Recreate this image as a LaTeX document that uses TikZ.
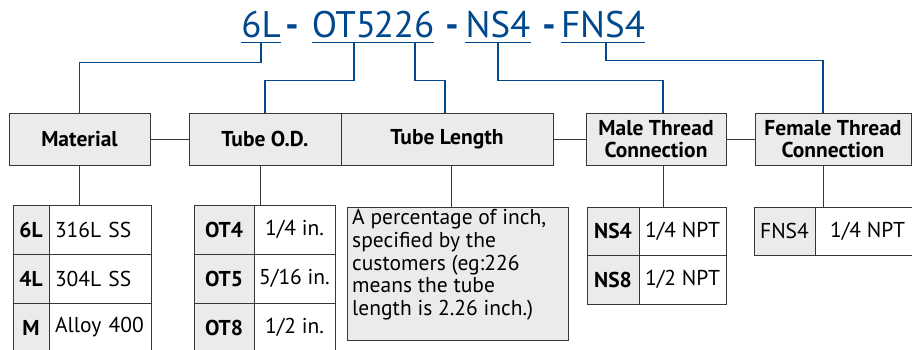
\documentclass[tikz,border=0pt]{standalone}
\usepackage{fontspec}
\setmainfont{PT Sans}
\usetikzlibrary{positioning}
\definecolor{codeblue}{RGB}{0,72,140}
\definecolor{cellgray}{RGB}{235,235,235}
\definecolor{rulegray}{RGB}{55,55,55}
\begin{document}
\begin{tikzpicture}[x=1pt,y=-1pt,
        part/.style={text=codeblue,font=\fontsize{37}{37}\selectfont,inner sep=0pt,anchor=base},
        head/.style={draw=rulegray,fill=cellgray,line width=0.9pt,font=\fontsize{21.5}{22}\selectfont\bfseries,align=center,minimum height=52pt,inner sep=0pt,outer sep=0pt},
        key/.style={draw=rulegray,fill=cellgray,line width=0.9pt,font=\fontsize{21.5}{22}\selectfont\bfseries,minimum height=49pt,inner sep=0pt,outer sep=0pt},
        val/.style={key,fill=white,font=\fontsize{21.5}{22}\selectfont},
        matval/.style={val,minimum width=102pt,text width=90pt,align=left},
        link/.style={draw=codeblue,line width=1.4pt},
        tie/.style={draw=rulegray,line width=0.9pt}]
        \clip (0,0) rectangle (912,349);
        \node[part] (c6L) at (261,37) {6L};
        \node[part] (d1) at (292,37) {\bfseries -};
        \node[part] (cOT) at (344,37) {OT5};
        \node[part] (c226) at (404,37) {226};
        \node[part] (d2) at (452,37) {\bfseries -};
        \node[part] (cNS) at (498,37) {NS4};
        \node[part] (d3) at (549,37) {\bfseries -};
        \node[part] (cFNS) at (603,37) {FNS4};
        \draw[link] ([yshift=-5pt]c6L.south west) -- ([yshift=-5pt]c6L.south east);
        \draw[link] ([yshift=-5pt]cOT.south west) -- ([yshift=-5pt]cOT.south east);
        \draw[link] ([yshift=-5pt]c226.south west) -- ([yshift=-5pt]c226.south east);
        \draw[link] ([yshift=-5pt]cNS.south west) -- ([yshift=-5pt]cNS.south east);
        \draw[link] ([yshift=-5pt]cFNS.south west) -- ([yshift=-5pt]cFNS.south east);

        \node[head,minimum width=141pt] (mat) at (79.5,139) {Material};
        \node[head,minimum width=152pt,right=39pt of mat] (od) {Tube O.D.};
        \node[head,minimum width=212pt,right=0pt of od] (len) {Tube Length};
        \node[head,minimum width=140pt,right=33pt of len] (male) {Male Thread\\Connection};
        \node[head,minimum width=156pt,right=29pt of male] (fem) {Female Thread\\Connection};
        \draw[tie] (mat) -- (od); \draw[tie] (len) -- (male); \draw[tie] (male) -- (fem);

        \draw[link] ([yshift=-5pt]c6L.south) -- ++(0,20) -| (mat.north);
        \draw[link] ([xshift=10pt,yshift=-5pt]cOT.south) -- ++(0,38) -| (od.north);
        \draw[link] ([xshift=11pt,yshift=-5pt]c226.south) -- ++(0,38) -| ([xshift=-2pt]len.north);
        \draw[link] ([yshift=-5pt]cNS.south) -- ++(0,38) -| ([xshift=7pt]male.north);
        \draw[link] ([xshift=3pt,yshift=-5pt]cFNS.south) -- ++(0,18) -| ([xshift=-10pt]fem.north);

        \node[key,minimum width=36pt,anchor=north west] (m1k) at (13,205) {6L};
        \node[matval,right=0pt of m1k] (m1v) {316L SS};
        \node[key,minimum width=36pt,below=0pt of m1k] (m2k) {4L};
        \node[matval,right=0pt of m2k] (m2v) {304L SS};
        \node[key,minimum width=36pt,below=0pt of m2k] (m3k) {M};
        \node[matval,right=0pt of m3k] (m3v) {Alloy 400};

        \node[key,minimum width=60pt,anchor=north west] (o1k) at (194,205) {OT4};
        \node[val,minimum width=81pt,right=0pt of o1k] (o1v) {1/4 in.};
        \node[key,minimum width=60pt,below=0pt of o1k] (o2k) {OT5};
        \node[val,minimum width=81pt,right=0pt of o2k] (o2v) {5/16 in.};
        \node[key,minimum width=60pt,below=0pt of o2k] (o3k) {OT8};
        \node[val,minimum width=81pt,right=0pt of o3k] (o3v) {1/2 in.};

        \node[draw=rulegray,fill=cellgray,line width=0.9pt,minimum width=221pt,minimum height=133pt,anchor=north west,outer sep=0pt] (lenbox) at (347,207) {};
        \node[anchor=north west,inner sep=0pt,align=left,font=\fontsize{21.5}{22.6}\selectfont] (lentext) at ([xshift=5pt,yshift=-2.5pt]lenbox.north west) {A percentage of inch,\\specified by the\\customers (eg:226\\means the tube\\length is 2.26 inch.)};

        \node[key,minimum width=52pt,minimum height=48.5pt,anchor=north west] (n1k) at (587,207) {NS4};
        \node[val,minimum width=87pt,minimum height=48.5pt,right=0pt of n1k] (n1v) {1/4 NPT};
        \node[key,minimum width=52pt,minimum height=48.5pt,below=0pt of n1k] (n2k) {NS8};
        \node[val,minimum width=87pt,minimum height=48.5pt,right=0pt of n2k] (n2v) {1/2 NPT};

        \node[key,minimum width=61pt,minimum height=48pt,anchor=north west,font=\fontsize{21.5}{22}\selectfont] (f1k) at (754,207) {FNS4};
        \node[val,minimum width=105pt,minimum height=48pt,right=0pt of f1k] (f1v) {1/4 NPT};

        \draw[tie] (mat) -- (mat |- m1k.north);
        \draw[tie] ([xshift=-5pt]od.south) -- ([xshift=-5pt]od.south |- o1k.north);
        \draw[tie] ([xshift=4pt]len.south) -- ([xshift=4pt]len.south |- lenbox.north);
        \draw[tie] ([xshift=7pt]male.south) -- ([xshift=7pt]male.south |- n1k.north);
        \draw[tie] ([xshift=-10pt]fem.south) -- ([xshift=-10pt]fem.south |- f1k.north);
\end{tikzpicture}
\end{document}
